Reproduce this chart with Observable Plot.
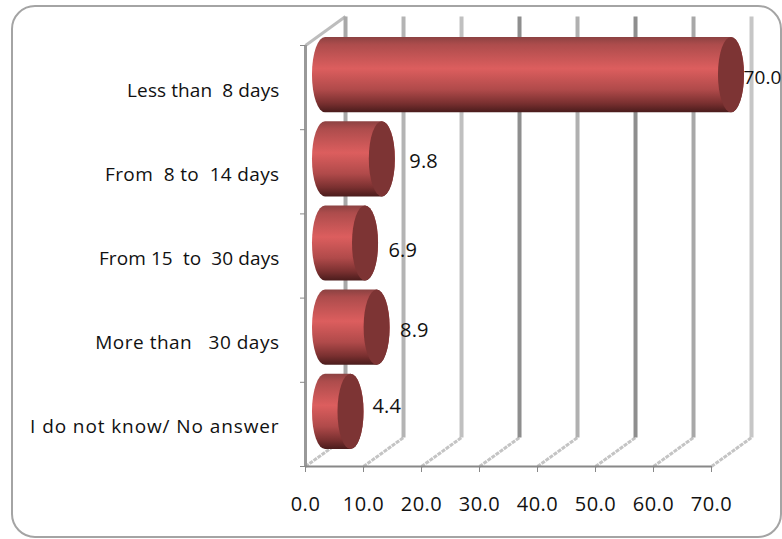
<!DOCTYPE html>
<html>
<head>
<meta charset="utf-8">
<script src="https://cdn.jsdelivr.net/npm/d3@7"></script>
<script src="https://cdn.jsdelivr.net/npm/@observablehq/plot@0.6"></script>
<style>
html,body{margin:0;padding:0;background:#fff;overflow:hidden;}
#wrap{position:relative;width:782px;height:539px;overflow:hidden;}
#frameB{position:absolute;left:11px;top:5px;width:771px;height:533px;border:2px solid #a4a4a4;border-radius:24px;box-sizing:border-box;}
#chart{position:absolute;left:0;top:0;}
#chart text{letter-spacing:0.1px;}
</style>
</head>
<body>
<div id="wrap"><div id="frameB"></div><div id="chart"></div></div>
<script>
const categories = ["Less than  8 days","From  8 to  14 days","From 15  to  30 days","More than   30 days","I do not know/ No answer"];
const values = [70.0, 9.8, 6.9, 8.9, 4.4];
const valueLabels = ["70.0","9.8","6.9","8.9","4.4"];
const xTicks = [0,10,20,30,40,50,60,70];
const yEdges = [0,1,2,3,4,5];

const depthX = 6.9, depthY = 0.344;
const rows = categories.map((c,i)=>({c,i,v:values[i],t:valueLabels[i]}));
const font = "'Open Sans', Lato, sans-serif";

const defs = () => {
  const ns = "http://www.w3.org/2000/svg";
  const d = document.createElementNS(ns,"defs");
  d.innerHTML = `<linearGradient id="cyl" x1="0" y1="0" x2="0" y2="1">
    <stop offset="0" stop-color="#8c4242"/><stop offset="0.1" stop-color="#ad4c4c"/>
    <stop offset="0.42" stop-color="#dc5e5e"/><stop offset="0.7" stop-color="#b04a4a"/>
    <stop offset="0.88" stop-color="#7a3030"/><stop offset="1" stop-color="#4a1c1c"/>
  </linearGradient>`;
  return d;
};

const label = (i,dx,dy,fontSize=20) => Plot.text([rows[i]],{x:"v",y:d=>d.i+0.5,text:"t",dx,dy,textAnchor:"start",fontSize,fill:"#111"});
const wallStroke = ["#a8a8a8","#b4b4b4","#c0c0c0","#8e8e8e","#b0b0b0","#8e8e8e","#a8a8a8","#c6c6c6"];

const plot = Plot.plot({
  width:782,height:539,
  marginLeft:305,marginRight:71,marginTop:45,marginBottom:73,
  style:{fontFamily:font,background:"transparent",overflow:"visible"},
  x:{domain:[0,70],label:null},
  y:{domain:[0,5],range:[45,466],label:null},
  marks:[
    defs,
    Plot.link(xTicks,{x1:d=>d,x2:d=>d+depthX,y1:5,y2:5-depthY,stroke:"#c4c4c4",strokeWidth:3,strokeDasharray:"4 1"}),
    Plot.link([0],{x1:d=>d,x2:d=>d+depthX,y1:0,y2:-depthY,stroke:"#bdbdbd",strokeWidth:3}),
    Plot.link(xTicks,{x1:d=>d+depthX,x2:d=>d+depthX,y1:-depthY,y2:5-depthY,stroke:(d,i)=>wallStroke[i],strokeWidth:4}),
    Plot.ruleX([0],{y1:0,y2:5,stroke:"#999",strokeWidth:3}),
    Plot.ruleY([5],{x1:0,x2:70,stroke:"#888",strokeWidth:2}),
    Plot.axisX({ticks:xTicks,tickFormat:d3.format(".1f"),tickSize:6,tickPadding:24,fontSize:20,fill:"#111",stroke:"#888",label:null}),
    Plot.axisY({ticks:yEdges,tickFormat:()=>"",tickSize:5,stroke:"#888",label:null}),
    Plot.rect(rows,{x1:0,x2:"v",y1:"i",y2:d=>d.i+1,insetTop:4.5,insetBottom:4.5,insetLeft:-13,insetRight:-13,rx:13,ry:37,dx:20,dy:-12.5,fill:"url(#cyl)"}),
    Plot.rect(rows,{x1:"v",x2:"v",y1:"i",y2:d=>d.i+1,insetTop:4.5,insetBottom:4.5,insetLeft:-13,insetRight:-13,rx:13,ry:37,dx:20,dy:-12.5,fill:"#7d3434"}),
    Plot.text(rows,{x:0,y:d=>d.i+0.5,text:"c",dx:-26,dy:3,textAnchor:"end",fontSize:19,fill:"#111"}),
    label(0,32,-10,19),label(1,47,-10),label(2,43,-5),label(3,43,-10),label(4,41.5,-18)
  ]
});
const spacing = new Map([[categories[1],0.35],[categories[3],0.5],[categories[4],0.9]]);
d3.select(plot).selectAll("text").each(function(){
  const t = this.textContent;
  if (spacing.has(t)) this.style.letterSpacing = spacing.get(t)+"px";
});
d3.select(plot).selectAll("[aria-label='x-axis tick label'] text").style("letter-spacing","0.5px");
document.getElementById("chart").appendChild(plot);
</script>
</body>
</html>
